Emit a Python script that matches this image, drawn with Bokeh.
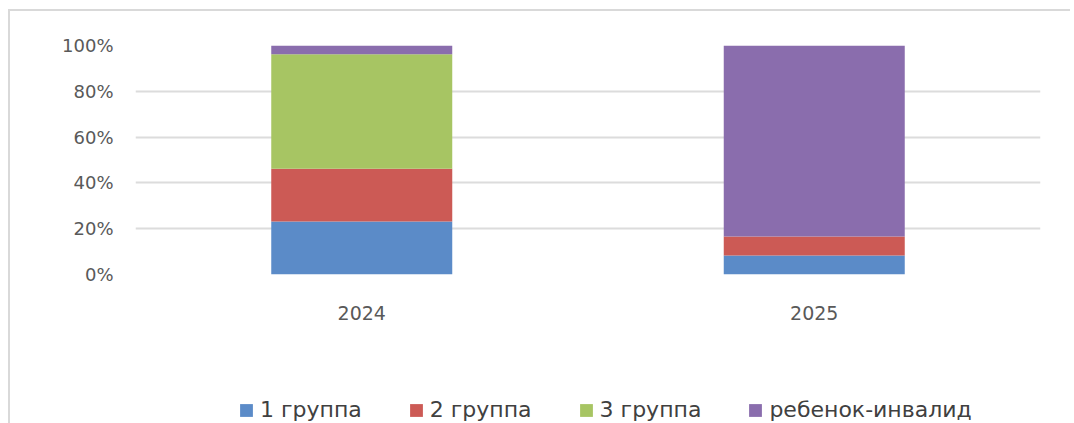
from bokeh.plotting import figure
from bokeh.layouts import column, row
from bokeh.models import (FactorRange, Range1d, FixedTicker, NumeralTickFormatter, Legend,
                          LegendItem, ColumnDataSource, Spacer)
from bokeh.embed import file_html
from bokeh.resources import INLINE

years = ["2024", "2025"]
series = ["1 группа", "2 группа", "3 группа", "ребенок-инвалид"]
g1 = [0.231, 0.083]
g2 = [0.231, 0.083]
g3 = [0.500, 0.000]
child = [0.038, 0.834]
colors = ["#5B8BC8", "#CC5A55", "#A7C563", "#8A6DAD"]
y_ticks = [0, 0.2, 0.4, 0.6, 0.8, 1.0]

keys = ["g1", "g2", "g3", "child"]
source = ColumnDataSource({"year": years, "g1": g1, "g2": g2, "g3": g3, "child": child})

p = figure(x_range=FactorRange(*years, range_padding=0), y_range=Range1d(0, 1),
           width=1060, height=330, output_backend="svg", toolbar_location=None,
           min_border_left=125, min_border_right=30, min_border_top=34, min_border_bottom=67)

p.vbar_stack(keys, x="year", width=0.4, source=source, color=colors, line_color=None)

p.outline_line_color = None
p.xgrid.visible = False
p.ygrid.grid_line_color = "#dcdcdc"
p.ygrid.grid_line_width = 2
p.yaxis.ticker = FixedTicker(ticks=y_ticks)
p.yaxis.formatter = NumeralTickFormatter(format="0%")
for ax in (p.xaxis[0], p.yaxis[0]):
    ax.axis_line_color = None
    ax.major_tick_line_color = None
    ax.minor_tick_line_color = None
    ax.major_tick_out = 0
    ax.major_label_text_color = "#595959"
    ax.major_label_text_font = "DejaVu Sans"
p.yaxis.major_label_text_font_size = "18px"
p.yaxis.major_label_standoff = 22
p.xaxis.major_label_text_font_size = "19px"
p.xaxis.major_label_standoff = 31

# legend strip below the chart (same series and colours; its bars lie outside its view)
pl = figure(x_range=p.x_range, y_range=Range1d(50, 51), width=1060, height=82,
            output_backend="svg", toolbar_location=None, min_border=0,
            x_axis_location=None, y_axis_location=None)
pl.xgrid.visible = False
pl.ygrid.visible = False
pl.outline_line_color = None
lrs = pl.vbar_stack(keys, x="year", width=0.4, source=source, color=colors, line_color=None)

legend = Legend(items=[LegendItem(label=s, renderers=[r]) for s, r in zip(series, lrs)],
                location=(103, 1), orientation="horizontal",
                glyph_width=16, glyph_height=16, label_standoff=6, spacing=46,
                padding=0, margin=0, border_line_color=None, background_fill_alpha=0,
                label_text_font_size="22px", label_text_color="#404040",
                label_text_font="DejaVu Sans")
pl.add_layout(legend, "center")

chart = column(p, pl, styles={"border-left": "2px solid #d9d9d9", "border-top": "2px solid #d9d9d9"})
page = column(Spacer(height=9), row(Spacer(width=8), chart))

open("out.html", "w").write(file_html(page, INLINE))
